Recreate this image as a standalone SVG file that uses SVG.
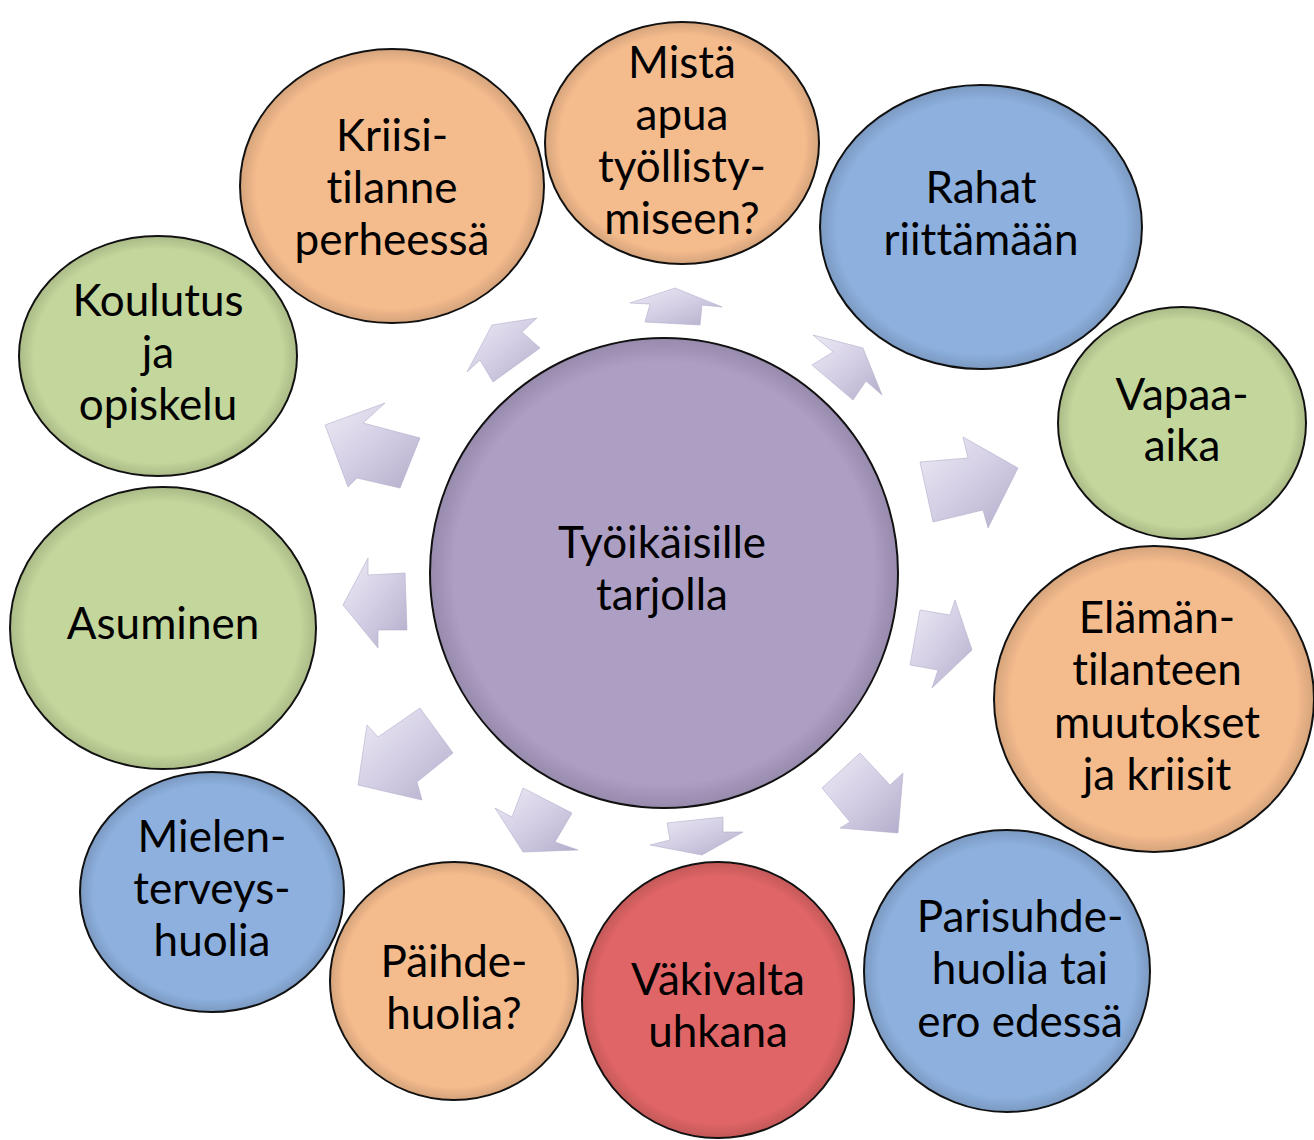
<svg xmlns="http://www.w3.org/2000/svg" width="1314" height="1140" viewBox="0 0 1314 1140">
<defs>
<style>
.t{font-family:Lato,"Open Sans","Liberation Sans",sans-serif;font-size:44px;fill:#000;text-anchor:middle;font-variant-ligatures:none;font-feature-settings:"liga" 0,"clig" 0,"dlig" 0}
.c{stroke:#111;stroke-width:2}
.peach{fill:#F4BB8D}
.blue{fill:#8DB0DE}
.green{fill:#C3D69B}
.red{fill:#E06566}
.purple{fill:#AD9EC4}
.rim{fill:url(#rim)}
.arr{fill:url(#ag);stroke:#B3ACCB;stroke-width:0.6}
</style>
<radialGradient id="rim" cx="0.5" cy="0.5" r="0.5">
<stop offset="0.9" stop-color="#000" stop-opacity="0"/>
<stop offset="1" stop-color="#000" stop-opacity="0.12"/>
</radialGradient>
<linearGradient id="ag" x1="0" y1="0" x2="1" y2="1">
<stop offset="0" stop-color="#EEEBF6"/>
<stop offset="0.5" stop-color="#D3CEE4"/>
<stop offset="1" stop-color="#B4ADCB"/>
</linearGradient>
</defs>
<rect width="1314" height="1140" fill="#fff"/>

<g id="connectors">
<polygon class="arr" points="675,288 722,307 702,305 700,325 645,322 650,304 630,303"/>
<polygon class="arr" points="863,348 882,395 866,381 853,400 812,365 833,352 813,335"/>
<polygon class="arr" points="920,462 968,458 963,437 1018,468 988,528 983,510 933,522"/>
<polygon class="arr" points="920,610 950,615 955,600 972,650 932,688 938,670 910,665"/>
<polygon class="arr" points="860,753 890,785 903,773 898,833 840,828 850,822 822,788"/>
<polygon class="arr" points="667,823 723,817 723,832 743,832 702,855 650,845 670,840"/>
<polygon class="arr" points="523,788 572,813 555,842 578,850 523,852 495,808 512,817"/>
<polygon class="arr" points="420,708 453,753 417,782 422,800 358,785 367,725 378,737"/>
<polygon class="arr" points="405,573 407,630 378,630 378,648 343,605 368,558 368,575"/>
<polygon class="arr" points="420,438 400,488 357,478 348,487 325,425 385,403 363,423"/>
<polygon class="arr" points="492,325 537,318 522,332 540,348 493,382 480,360 467,372"/>
</g>

<g id="center">
<ellipse class="c purple" cx="664" cy="573" rx="234" ry="235"/>
<ellipse class="rim" cx="664" cy="573" rx="233" ry="234"/>
<text class="t" x="662" y="558">Työikäisille</text>
<text class="t" x="662" y="610">tarjolla</text>
</g>

<g id="n-mista">
<ellipse class="c peach" cx="682" cy="143" rx="137" ry="121"/>
<ellipse class="rim" cx="682" cy="143" rx="136" ry="120"/>
<text class="t" x="682" y="78">Mistä</text>
<text class="t" x="682" y="130">apua</text>
<text class="t" x="682" y="182">työllisty-</text>
<text class="t" x="682" y="234">miseen?</text>
</g>

<g id="n-rahat">
<ellipse class="c blue" cx="981" cy="227" rx="161" ry="142"/>
<ellipse class="rim" cx="981" cy="227" rx="160" ry="141"/>
<text class="t" x="981" y="203">Rahat</text>
<text class="t" x="981" y="255">riittämään</text>
</g>

<g id="n-vapaa">
<ellipse class="c green" cx="1182" cy="423" rx="124" ry="116"/>
<ellipse class="rim" cx="1182" cy="423" rx="123" ry="115"/>
<text class="t" x="1182" y="410">Vapaa-</text>
<text class="t" x="1182" y="461">aika</text>
</g>

<g id="n-elaman">
<ellipse class="c peach" cx="1154" cy="699" rx="160" ry="153"/>
<ellipse class="rim" cx="1154" cy="699" rx="159" ry="152"/>
<text class="t" x="1157" y="633">Elämän-</text>
<text class="t" x="1157" y="685">t&#x200C;ilanteen</text>
<text class="t" x="1157" y="738">muutokset</text>
<text class="t" x="1157" y="790">ja kriisit</text>
</g>

<g id="n-parisuhde">
<ellipse class="c blue" cx="1007" cy="971" rx="143" ry="141"/>
<ellipse class="rim" cx="1007" cy="971" rx="142" ry="140"/>
<text class="t" x="1020" y="932">Parisuhde-</text>
<text class="t" x="1020" y="984">huolia tai</text>
<text class="t" x="1020" y="1037">ero edessä</text>
</g>

<g id="n-vakivalta">
<ellipse class="c red" cx="718" cy="1000" rx="136" ry="138"/>
<ellipse class="rim" cx="718" cy="1000" rx="135" ry="137"/>
<text class="t" x="718" y="995">Väkivalta</text>
<text class="t" x="718" y="1047">uhkana</text>
</g>

<g id="n-paihde">
<ellipse class="c peach" cx="454" cy="981" rx="124" ry="119"/>
<ellipse class="rim" cx="454" cy="981" rx="123" ry="118"/>
<text class="t" x="454" y="977">Päihde-</text>
<text class="t" x="454" y="1029">huolia?</text>
</g>

<g id="n-mielen">
<ellipse class="c blue" cx="212" cy="892" rx="132" ry="120"/>
<ellipse class="rim" cx="212" cy="892" rx="131" ry="119"/>
<text class="t" x="212" y="852">Mielen-</text>
<text class="t" x="212" y="904">terveys-</text>
<text class="t" x="212" y="956">huolia</text>
</g>

<g id="n-asuminen">
<ellipse class="c green" cx="163" cy="628" rx="153" ry="141"/>
<ellipse class="rim" cx="163" cy="628" rx="152" ry="140"/>
<text class="t" x="163" y="639">Asuminen</text>
</g>

<g id="n-koulutus">
<ellipse class="c green" cx="158" cy="356" rx="139" ry="120"/>
<ellipse class="rim" cx="158" cy="356" rx="138" ry="119"/>
<text class="t" x="158" y="316">Koulutus</text>
<text class="t" x="158" y="368">ja</text>
<text class="t" x="158" y="420">opiskelu</text>
</g>

<g id="n-kriisi">
<ellipse class="c peach" cx="392" cy="186" rx="152" ry="137"/>
<ellipse class="rim" cx="392" cy="186" rx="151" ry="136"/>
<text class="t" x="392" y="151">Kriisi-</text>
<text class="t" x="392" y="203">t&#x200C;ilanne</text>
<text class="t" x="392" y="255">perheessä</text>
</g>
</svg>
